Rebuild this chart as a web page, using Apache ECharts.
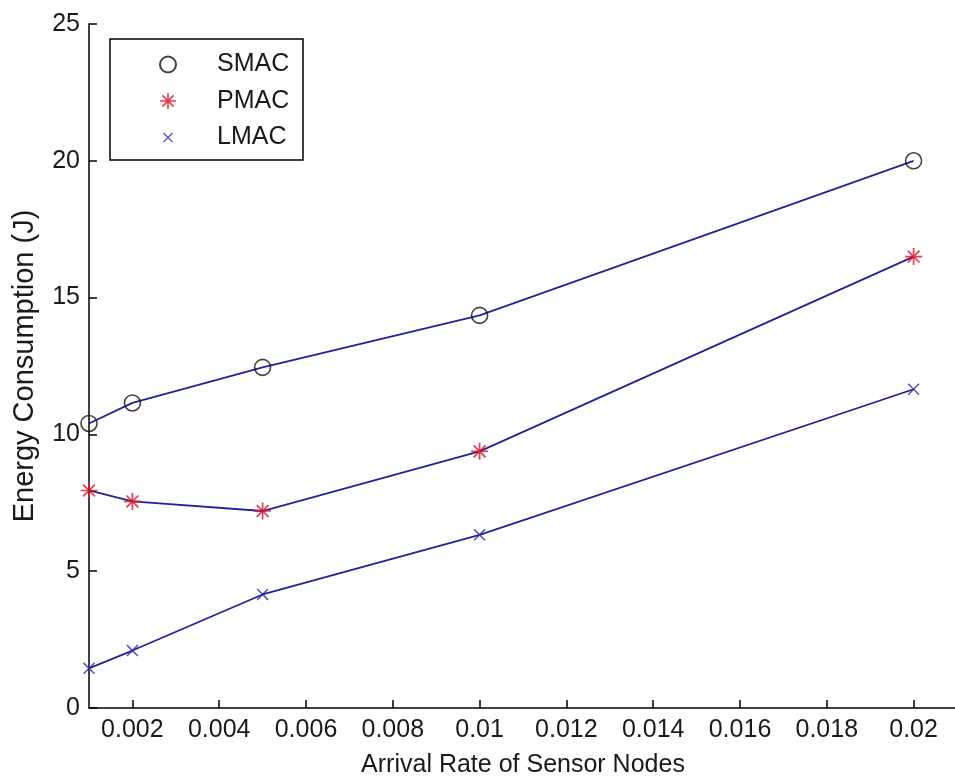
<!DOCTYPE html>
<html>
<head>
<meta charset="utf-8">
<script src="https://cdn.jsdelivr.net/npm/echarts@6/dist/echarts.min.js"></script>
<style>
html,body{margin:0;padding:0;background:#fff;}
#chart{width:955px;height:780px;}
</style>
</head>
<body>
<div id="chart"></div>
<script>
const xValues = [0.001, 0.002, 0.005, 0.01, 0.02];
const smac = [10.4, 11.15, 12.45, 14.35, 20.0];
const pmac = [7.95, 7.55, 7.2, 9.38, 16.5];
const lmac = [1.45, 2.1, 4.15, 6.33, 11.65];
const xTicks = [0.002, 0.004, 0.006, 0.008, 0.01, 0.012, 0.014, 0.016, 0.018, 0.02];
const seriesNames = ['SMAC', 'PMAC', 'LMAC'];

const FONT = 'Liberation Sans, Arial, sans-serif';
const LINE = '#22229a';
const STAR = 'path://M-1,-10L1,-10L1,10L-1,10Z M-10,-1L10,-1L10,1L-10,1Z M-6.3,-7.7L7.7,6.3L6.3,7.7L-7.7,-6.3Z M-7.7,6.3L6.3,-7.7L7.7,-6.3L-6.3,7.7Z';
const CROSS = 'path://M-6.3,-7.7L7.7,6.3L6.3,7.7L-7.7,-6.3Z M-7.7,6.3L6.3,-7.7L7.7,-6.3L-6.3,7.7Z';
const CROSS_LEGEND = 'path://M-12.3,-12.3L-12.3,-12.3 M12.3,12.3L12.3,12.3 M-6.3,-7.7L7.7,6.3L6.3,7.7L-7.7,-6.3Z M-7.7,6.3L6.3,-7.7L7.7,-6.3L-6.3,7.7Z';

function pairs(ys){ return xValues.map((x,i)=>[x, ys[i]]); }
const allData = [smac, pmac, lmac];
const markerStyles = [
  {symbol:'circle', symbolSize:16, itemStyle:{color:'rgba(255,255,255,0)', borderColor:'#111', borderWidth:1.6}},
  {symbol:STAR, symbolSize:17, itemStyle:{color:'#dc0f25', borderWidth:0}},
  {symbol:CROSS, symbolSize:12, itemStyle:{color:'#2a2aa8', borderWidth:0}}
];

const series = [];
allData.forEach((d,i)=>{
  series.push({
    name: seriesNames[i] + ' line', type:'line', data: pairs(d),
    showSymbol:false, symbol:'none', lineStyle:{color:LINE, width:1.8}, z:2, silent:true
  });
});
allData.forEach((d,i)=>{
  series.push(Object.assign({
    name: seriesNames[i], type:'scatter', data: pairs(d), z:3
  }, markerStyles[i]));
});

const chart = echarts.init(document.getElementById('chart'), null, {renderer:'canvas'});
chart.setOption({
  animation:false,
  backgroundColor:'#ffffff',
  grid:{left:89, right:-2, top:24, bottom:72, containLabel:false, outerBoundsMode:'none'},
  xAxis:{
    type:'value', min:0.001, max:0.021,
    name:'Arrival Rate of Sensor Nodes', nameLocation:'middle', nameGap:45,
    nameTextStyle:{fontFamily:FONT, fontSize:25, color:'#1a1a1a'},
    axisLine:{show:true, lineStyle:{color:'#000', width:1.5}},
    axisTick:{show:true, inside:true, length:8, customValues:xTicks, lineStyle:{color:'#000', width:1.5}},
    axisLabel:{show:true, customValues:xTicks, margin:10, fontFamily:FONT, fontSize:25, color:'#1a1a1a',
      formatter:v=>String(Number(v.toFixed(3)))},
    splitLine:{show:false}
  },
  yAxis:{
    type:'value', min:0, max:25, interval:5,
    name:'Energy Consumption (J)', nameLocation:'middle', nameGap:50,
    nameTextStyle:{fontFamily:FONT, fontSize:29, color:'#1a1a1a'},
    axisLine:{show:true, lineStyle:{color:'#000', width:1.5}},
    axisTick:{show:true, inside:true, length:8, lineStyle:{color:'#000', width:1.5}},
    axisLabel:{margin:9, fontFamily:FONT, fontSize:25, color:'#1a1a1a'},
    splitLine:{show:false}
  },
  legend:{
    data: [{name:'SMAC'}, {name:'PMAC'}, {name:'LMAC', icon:CROSS_LEGEND}],
    orient:'vertical', left:159, top:52, padding:0,
    itemWidth:88, itemHeight:16, itemGap:11.5,
    textStyle:{fontFamily:FONT, fontSize:25, color:'#1a1a1a'},
    selectedMode:false, z:10
  },
  graphic:[{
    type:'rect', shape:{x:110, y:39, width:193, height:121},
    style:{fill:'#fff', stroke:'#000', lineWidth:1.5}, z:5, silent:true
  }],
  series: series
});
</script>
</body>
</html>
